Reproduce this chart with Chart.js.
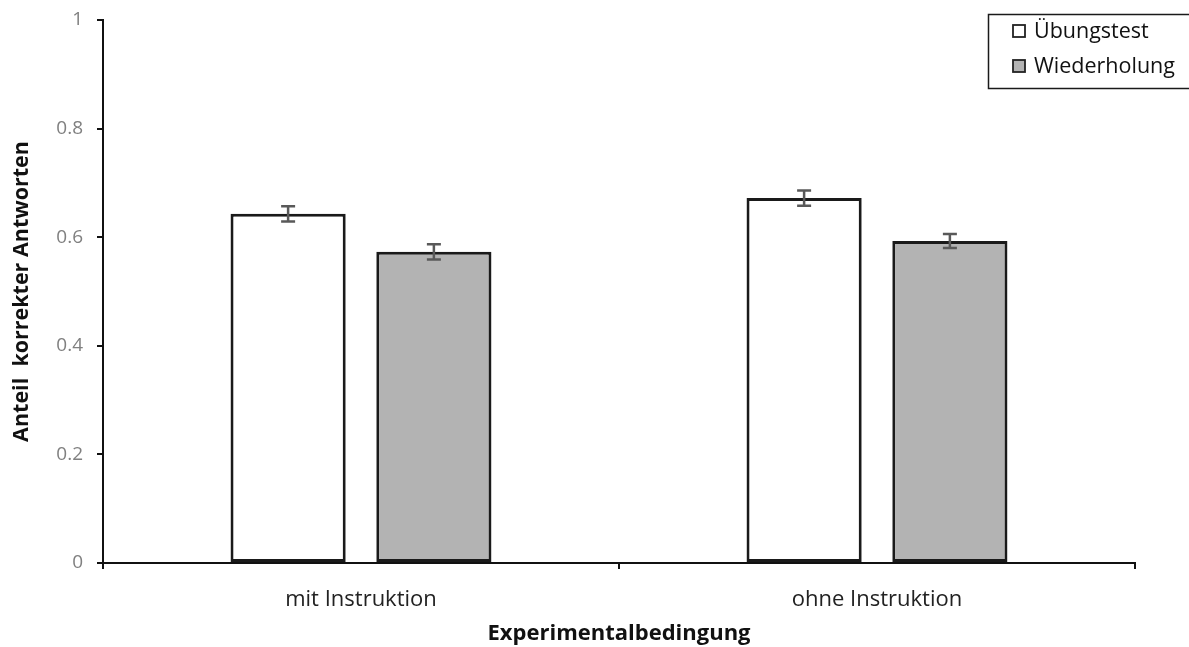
<!DOCTYPE html>
<html>
<head>
<meta charset="utf-8">
<script src="https://cdn.jsdelivr.net/npm/chart.js@4.4.1/dist/chart.umd.min.js"></script>
<style>
  html, body { margin: 0; padding: 0; background: #ffffff; }
  #wrap { width: 1189px; height: 647px; position: relative; }
</style>
</head>
<body>
<div id="wrap"><canvas id="c" width="1189" height="647"></canvas></div>
<script>
// ---- data ----
const categories = ["mit Instruktion", "ohne Instruktion"];
const seriesNames = ["Übungstest", "Wiederholung"];
const uebungstest = [0.643, 0.672];
const wiederholung = [0.573, 0.593];
const uebungstestErr = [0.014, 0.014];
const wiederholungErr = [0.014, 0.013];
const yTicks = [0, 0.2, 0.4, 0.6, 0.8, 1];
const xTitle = "Experimentalbedingung";
const yTitle = "Anteil  korrekter Antworten";

const FONT = "'Open Sans', 'DejaVu Sans', sans-serif";
const fillColors = ["#ffffff", "#b3b3b3"];
const errors = [uebungstestErr, wiederholungErr];

const errorBarPlugin = {
  id: "errorBars",
  afterDatasetsDraw(chart) {
    const ctx = chart.ctx;
    const y = chart.scales.y;
    ctx.save();
    ctx.strokeStyle = "#595959";
    ctx.lineWidth = 2.5;
    chart.data.datasets.forEach((ds, di) => {
      const meta = chart.getDatasetMeta(di);
      meta.data.forEach((bar, i) => {
        const v = ds.data[i], e = errors[di][i];
        const x = bar.x;
        const yt = y.getPixelForValue(v + e);
        const yb = y.getPixelForValue(v - e);
        const cw = 7;
        ctx.beginPath();
        ctx.moveTo(x, yt); ctx.lineTo(x, yb);
        ctx.moveTo(x - cw, yt); ctx.lineTo(x + cw, yt);
        ctx.moveTo(x - cw, yb); ctx.lineTo(x + cw, yb);
        ctx.stroke();
      });
    });
    ctx.restore();
  }
};

const legendBoxPlugin = {
  id: "legendBox",
  afterDraw(chart) {
    const ctx = chart.ctx;
    ctx.save();
    ctx.strokeStyle = "#1a1a1a";
    ctx.lineWidth = 1.5;
    ctx.strokeRect(988.5, 14.5, 210, 74);
    const rows = [31, 66];
    chart.data.datasets.forEach((ds, i) => {
      const cy = rows[i];
      ctx.fillStyle = fillColors[i];
      ctx.fillRect(1013, cy - 6, 12, 12);
      ctx.lineWidth = 1.8;
      ctx.strokeStyle = "#222";
      ctx.strokeRect(1013, cy - 6, 12, 12);
      ctx.fillStyle = "#111";
      ctx.font = "21.5px " + FONT;
      ctx.textBaseline = "middle";
      ctx.textAlign = "left";
      ctx.fillText(ds.label, 1034, cy + 1);
    });
    ctx.restore();
  }
};

new Chart(document.getElementById("c"), {
  type: "bar",
  data: {
    labels: categories,
    datasets: [
      { label: seriesNames[0], data: uebungstest, backgroundColor: fillColors[0],
        borderColor: "#1a1a1a", borderWidth: 3, borderSkipped: false,
        categoryPercentage: 0.565, barPercentage: 0.79 },
      { label: seriesNames[1], data: wiederholung, backgroundColor: fillColors[1],
        borderColor: "#1a1a1a", borderWidth: 3, borderSkipped: false,
        categoryPercentage: 0.565, barPercentage: 0.79 }
    ]
  },
  options: {
    responsive: false,
    animation: false,
    devicePixelRatio: 1,
    layout: { padding: { left: 0, right: 54, top: 20, bottom: 0 } },
    plugins: { legend: { display: false }, tooltip: { enabled: false } },
    scales: {
      x: {
        offset: true,
        grid: { offset: true, drawOnChartArea: false, drawTicks: true, tickLength: 6, color: "#111", lineWidth: 2 },
        border: { display: true, color: "#111", width: 2 },
        ticks: { color: "#222", font: { family: FONT, size: 22 }, padding: 18 },
        title: { display: true, text: xTitle, color: "#111",
                 font: { family: FONT, size: 22, weight: "bold" }, padding: { top: 0, bottom: 0 } },
        afterFit(s) { s.height = 84; s.paddingLeft = 0; s.paddingRight = 0; }
      },
      y: {
        min: 0, max: 1,
        afterBuildTicks(s) { s.ticks = yTicks.map(v => ({ value: v })); },
        grid: { drawOnChartArea: false, drawTicks: true, tickLength: 6, color: "#111", lineWidth: 2 },
        border: { display: true, color: "#111", width: 2 },
        ticks: { color: "#808080", font: { family: FONT, size: 19 }, padding: 14,
                 callback: v => String(v) },
        title: { display: true, text: yTitle, color: "#111",
                 font: { family: FONT, size: 21.5, weight: "bold" }, padding: { top: 9, bottom: 0 } },
        afterFit(s) { s.width = 103; s.paddingTop = 0; s.paddingBottom = 0; }
      }
    }
  },
  plugins: [errorBarPlugin, legendBoxPlugin]
});
</script>
</body>
</html>
